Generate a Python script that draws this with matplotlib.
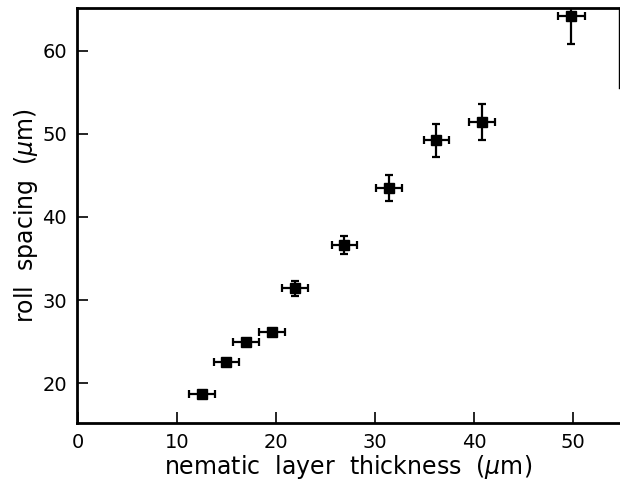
import matplotlib
matplotlib.use('Agg')
import matplotlib.pyplot as plt

# nematic layer thickness (um) vs roll spacing (um)
thickness = [12.5, 15.0, 17.0, 19.6, 21.9, 26.9, 31.4, 36.2, 40.8, 49.8]
spacing = [18.7, 22.5, 25.0, 26.1, 31.4, 36.6, 43.5, 49.2, 51.4, 64.2]
thick_err = [1.3, 1.3, 1.3, 1.3, 1.3, 1.25, 1.3, 1.3, 1.3, 1.35]
spacing_err = [0.3, 0.3, 0.3, 0.3, 0.9, 1.1, 1.6, 2.0, 2.2, 3.4]

xticks = [0, 10, 20, 30, 40, 50]
yticks = [20, 30, 40, 50, 60]

plt.rcParams['font.family'] = ['DejaVu Sans']

fig = plt.figure(figsize=(6.2, 4.83), dpi=100)
ax = fig.add_axes([0.124, 0.124, 0.874, 0.859])

ax.errorbar(thickness, spacing, xerr=thick_err, yerr=spacing_err,
            fmt='s', color='black', markersize=6.5, elinewidth=1.6,
            capsize=3.2, capthick=1.6, clip_on=True)

ax.set_xlim(-0.1, 54.6)
ax.set_ylim(15.2, 65.1)
ax.set_xticks(xticks)
ax.set_yticks(yticks)
ax.tick_params(direction='in', length=8, width=1.2, labelsize=14, pad=7)

for side in ['left', 'bottom', 'top']:
    ax.spines[side].set_linewidth(2)
ax.spines['right'].set_linewidth(1)
ax.spines['right'].set_bounds(55.5, 65.1)

ax.set_xlabel('nematic  layer  thickness  ($\\mu$m)', fontsize=17, labelpad=1)
ax.set_ylabel('roll  spacing  ($\\mu$m)', fontsize=17, labelpad=2)

fig.savefig('out.png', dpi=100)
